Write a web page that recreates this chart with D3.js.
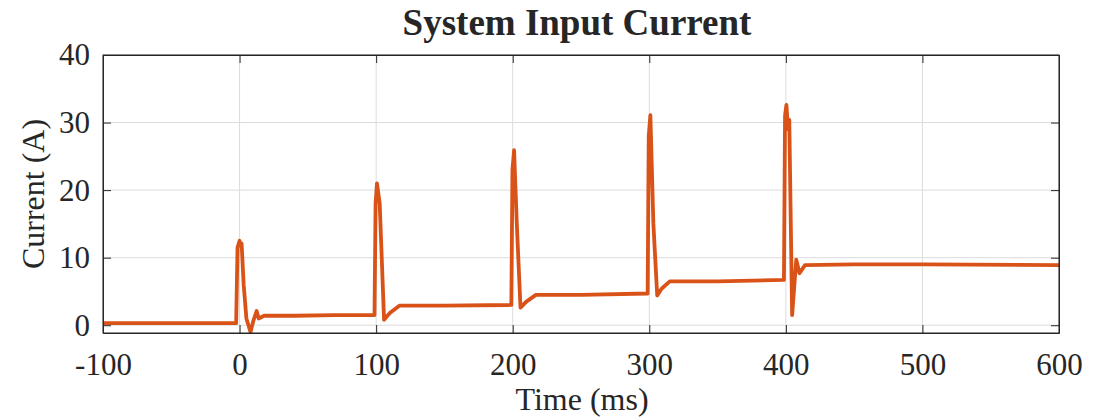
<!DOCTYPE html>
<html>
<head>
<meta charset="utf-8" />
<title>System Input Current</title>
<style>
  body { margin: 0; background: #fff; }
  text { font-family: "Liberation Serif", "Times New Roman", serif; fill: #262626; }
  .grid line { stroke: #dcdcdc; stroke-width: 1px; }
  .axis path, .axis line { stroke: #262626; }
</style>
</head>
<body>
<script src="https://d3js.org/d3.v7.min.js"></script>
<script>
// time (ms) and current (A)
var timeMs = [-100, -50, -2.5, -1.5, 0, 0.8, 1.5, 3, 5, 8, 10, 12.5, 14, 18, 40, 70, 98.8,
  99.6, 100.6, 102.6, 105.8, 110, 117, 150, 199,
  199.8, 201, 203, 205.7, 210, 217, 250, 298.8,
  299.6, 300.8, 303, 305.8, 309, 315, 350, 398.6,
  399.4, 400.4, 401.6, 402.5, 404.6, 407.6, 410, 414, 450, 500, 600];
var currentA = [0.3, 0.3, 0.3, 11.5, 12.5, 11.8, 12.1, 6, 1, -1.0, 0.6, 2.1, 1.0, 1.4, 1.4, 1.5, 1.5,
  18, 21.0, 18, 0.8, 1.8, 2.9, 2.9, 3.0,
  23, 25.9, 15, 2.6, 3.5, 4.5, 4.5, 4.7,
  28, 31.1, 15, 4.4, 5.4, 6.5, 6.5, 6.7,
  31, 32.6, 29, 30.4, 1.5, 9.7, 7.7, 8.9, 9.0, 9.0, 8.9];

var xTicks = [-100, 0, 100, 200, 300, 400, 500, 600];
var yTicks = [0, 10, 20, 30, 40];

var width = 1105, height = 419;
var margin = {left: 103, right: 46, top: 55, bottom: 86};
var iw = width - margin.left - margin.right,
    ih = height - margin.top - margin.bottom;

var svg = d3.select("body").append("svg")
    .attr("width", width)
    .attr("height", height);

var x = d3.scaleLinear().domain([-100, 600]).range([0, iw]);
var y = d3.scaleLinear().domain([-1.15, 40]).range([ih, 0]);

var g = svg.append("g").attr("transform", "translate(" + margin.left + "," + margin.top + ")");

// grid
g.append("g").attr("class", "grid")
  .selectAll("line.v").data(xTicks).enter().append("line")
  .attr("x1", d => x(d)).attr("x2", d => x(d)).attr("y1", 0).attr("y2", ih);
g.append("g").attr("class", "grid")
  .selectAll("line.h").data(yTicks).enter().append("line")
  .attr("x1", 0).attr("x2", iw).attr("y1", d => y(d)).attr("y2", d => y(d));

// trace
var data = timeMs.map((t, i) => [t, currentA[i]]);
g.append("path")
  .datum(data)
  .attr("fill", "none")
  .attr("stroke", "#D95319")
  .attr("stroke-width", 3.8)
  .attr("stroke-linejoin", "round")
  .attr("d", d3.line().x(d => x(d[0])).y(d => y(d[1])));

// axes (ticks inward, boxed)
var tickLen = 8;
var fmt = d => String(d); // plain hyphen for negatives, like the original
g.append("g").attr("class", "axis")
  .attr("transform", "translate(0," + ih + ")")
  .call(d3.axisBottom(x).tickValues(xTicks).tickFormat(fmt).tickSize(-tickLen).tickPadding(20).tickSizeOuter(0));
g.append("g").attr("class", "axis")
  .call(d3.axisLeft(y).tickValues(yTicks).tickFormat(fmt).tickSize(-tickLen).tickPadding(13).tickSizeOuter(0));
g.append("g").attr("class", "axis")
  .call(d3.axisTop(x).tickValues(xTicks).tickSize(-tickLen).tickFormat("").tickSizeOuter(0));
g.append("g").attr("class", "axis")
  .attr("transform", "translate(" + iw + ",0)")
  .call(d3.axisRight(y).tickValues(yTicks).tickSize(-tickLen).tickFormat("").tickSizeOuter(0));

svg.selectAll(".axis text")
  .style("font-family", "'Liberation Serif', 'Times New Roman', serif")
  .style("font-size", "31px")
  .attr("fill", "#262626");

g.append("rect")
  .attr("width", iw).attr("height", ih)
  .attr("fill", "none").attr("stroke", "#262626").attr("stroke-width", 1);

// labels
svg.append("text")
  .attr("x", 577).attr("y", 35)
  .attr("text-anchor", "middle")
  .style("font-size", "37px").style("font-weight", "bold")
  .attr("fill", "#000")
  .text("System Input Current");

svg.append("text")
  .attr("x", 582).attr("y", 410)
  .attr("text-anchor", "middle")
  .style("font-size", "32px")
  .text("Time (ms)");

svg.append("text")
  .attr("transform", "translate(44,194) rotate(-90)")
  .attr("text-anchor", "middle")
  .style("font-size", "32px")
  .text("Current (A)");
</script>
</body>
</html>
